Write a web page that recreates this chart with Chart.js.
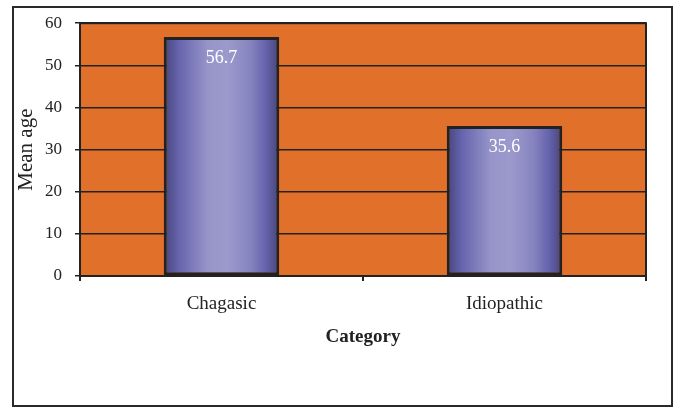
<!DOCTYPE html>
<html>
<head>
<meta charset="utf-8">
<script src="https://cdn.jsdelivr.net/npm/chart.js@4/dist/chart.umd.min.js"></script>
<style>
  html, body { margin: 0; padding: 0; background: #fff; }
  #wrap { width: 678px; height: 408px; position: relative; }
</style>
</head>
<body>
<div id="wrap"><canvas id="c" width="678" height="408"></canvas></div>
<script>
const categories = ["Chagasic", "Idiopathic"];
const meanAge = [56.7, 35.6];
const yTicks = [0, 10, 20, 30, 40, 50, 60];

const FONT = "'Liberation Serif', 'DejaVu Serif', serif";
const BAR_PCT = 0.408;

function barGradient(ctx) {
  const chart = ctx.chart;
  const xs = chart.scales.x;
  if (!xs || ctx.dataIndex === undefined) return '#8a88c4';
  const cx = xs.getPixelForValue(ctx.dataIndex);
  const half = (xs.width / categories.length) * BAR_PCT / 2;
  if (!isFinite(cx) || !isFinite(half) || half <= 0) return '#8a88c4';
  const g = chart.ctx.createLinearGradient(cx - half, 0, cx + half, 0);
  g.addColorStop(0, '#46457a');
  g.addColorStop(0.13, '#6664ad');
  g.addColorStop(0.38, '#9694c9');
  g.addColorStop(0.55, '#9c9acc');
  g.addColorStop(0.75, '#8684bf');
  g.addColorStop(0.88, '#6664ad');
  g.addColorStop(1, '#46457a');
  return g;
}

const framePlugin = {
  id: 'frame',
  beforeDraw(chart) {
    const c = chart.ctx;
    c.save();
    c.fillStyle = '#ffffff';
    c.fillRect(0, 0, chart.width, chart.height);
    const a = chart.chartArea;
    c.fillStyle = '#e1702a';
    c.fillRect(a.left, a.top, a.right - a.left, a.bottom - a.top);
    c.restore();
  },
  afterDraw(chart) {
    const c = chart.ctx;
    const a = chart.chartArea;
    c.save();
    c.strokeStyle = '#222';
    c.lineWidth = 2;
    c.strokeRect(a.left, a.top, a.right - a.left, a.bottom - a.top);
    c.strokeStyle = '#2a2a2a';
    c.lineWidth = 2;
    c.strokeRect(13, 7, 659, 399);
    const meta = chart.getDatasetMeta(0);
    c.fillStyle = '#ffffff';
    c.font = '18px ' + FONT;
    c.textAlign = 'center';
    c.textBaseline = 'middle';
    meta.data.forEach((bar, i) => {
      c.fillText(meanAge[i].toFixed(1), bar.x, bar.y + 21);
    });
    c.restore();
  }
};

const chart = new Chart(document.getElementById('c'), {
  type: 'bar',
  data: {
    labels: categories,
    datasets: [{
      data: meanAge,
      backgroundColor: barGradient,
      borderColor: '#222',
      borderWidth: 3,
      borderSkipped: false,
      barPercentage: BAR_PCT,
      categoryPercentage: 1.0
    }]
  },
  options: {
    responsive: false,
    animation: false,
    devicePixelRatio: 1,
    layout: { padding: { left: 14, top: 22, right: 32, bottom: 56 } },
    plugins: { legend: { display: false }, tooltip: { enabled: false } },
    scales: {
      x: {
        afterFit(s) { s.height = 76; },
        grid: { drawOnChartArea: false, color: '#222', lineWidth: 2, tickLength: 5, offset: true },
        border: { color: '#222', width: 2 },
        ticks: { color: '#222', font: { family: FONT, size: 19 }, padding: 12 },
        title: { display: true, text: 'Category', color: '#222', font: { family: FONT, size: 19, weight: 'bold' }, padding: { top: 4, bottom: 4 } }
      },
      y: {
        min: 0, max: 60,
        afterFit(s) { s.width = 66; },
        afterBuildTicks(s) { s.ticks = yTicks.map(v => ({ value: v })); },
        grid: { color: '#222', lineWidth: 1.5, tickLength: 5 },
        border: { color: '#222', width: 2 },
        ticks: { color: '#222', font: { family: FONT, size: 17 }, padding: 13 },
        title: { display: true, text: 'Mean age', color: '#222', font: { family: FONT, size: 21 }, padding: { top: 0, bottom: 2 } }
      }
    }
  },
  plugins: [framePlugin]
});
chart.update();
</script>
</body>
</html>
